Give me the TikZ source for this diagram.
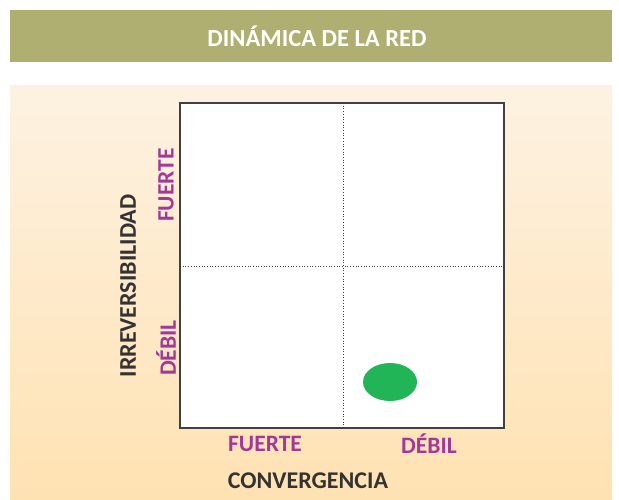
\documentclass[tikz,border=0pt]{standalone}
\usepackage{fontspec}
\setmainfont{Carlito}
\usepackage{tikz}
\usetikzlibrary{arrows.meta,calc}

\definecolor{olivebar}{RGB}{174,175,112}
\definecolor{creamtop}{RGB}{253,242,226}
\definecolor{creambot}{RGB}{255,226,178}
\definecolor{gridframe}{RGB}{64,64,64}
\definecolor{labelpurple}{RGB}{161,57,155}
\definecolor{labeldark}{RGB}{51,51,51}
\definecolor{dotgreen}{RGB}{34,181,87}

\tikzset{
  axislabel/.style={font=\fontsize{24}{26}\selectfont\bfseries, text=labeldark, inner sep=0pt},
  levellabel/.style={font=\fontsize{23.5}{26}\selectfont\bfseries, text=labelpurple, inner sep=0pt},
  quadline/.style={gridframe, dotted, line width=0.7pt}
}

\begin{document}
\begin{tikzpicture}[x=1pt, y=-1pt, >=Stealth]
    %% Background
    \useasboundingbox (0,0) rectangle (619,499);
    \fill[olivebar] (10,10) rectangle (612,62);
    \shade[top color=creamtop, bottom color=creambot, draw=none] (10,85) rectangle (612,499);

    %% Title
    \node[font=\fontsize{24.5}{27}\selectfont\bfseries, text=white] (title) at (317,36) {DINÁMICA DE LA RED};

    %% Quadrant box
    \coordinate (nw) at (180,103);
    \coordinate (se) at (504,428);
    \coordinate (midtop) at (343,103);
    \coordinate (midbot) at (343,428);
    \coordinate (midleft) at (180,266);
    \coordinate (midright) at (504,266);
    \fill[white] (nw) rectangle (se);
    \draw[quadline] (midtop) -- (midbot);
    \draw[quadline] (midleft) -- (midright);
    \draw[gridframe, line width=1.6pt] (nw) rectangle (se);

    %% Point
    \fill[dotgreen] (390,382) ellipse (27 and 19);

    %% Notes
    \node[levellabel, rotate=90] (irrfuerte) at (166,185) {FUERTE};
    \node[levellabel, rotate=90] (irrdebil) at (166,348) {DÉBIL};
    \node[axislabel, rotate=90] (irrev) at (128,286) {IRREVERSIBILIDAD};
    \node[levellabel] (convfuerte) at (265,444) {FUERTE};
    \node[levellabel] (convdebil) at (429,444) {DÉBIL};
    \node[axislabel] (conv) at (308,481) {CONVERGENCIA};
\end{tikzpicture}
\end{document}
